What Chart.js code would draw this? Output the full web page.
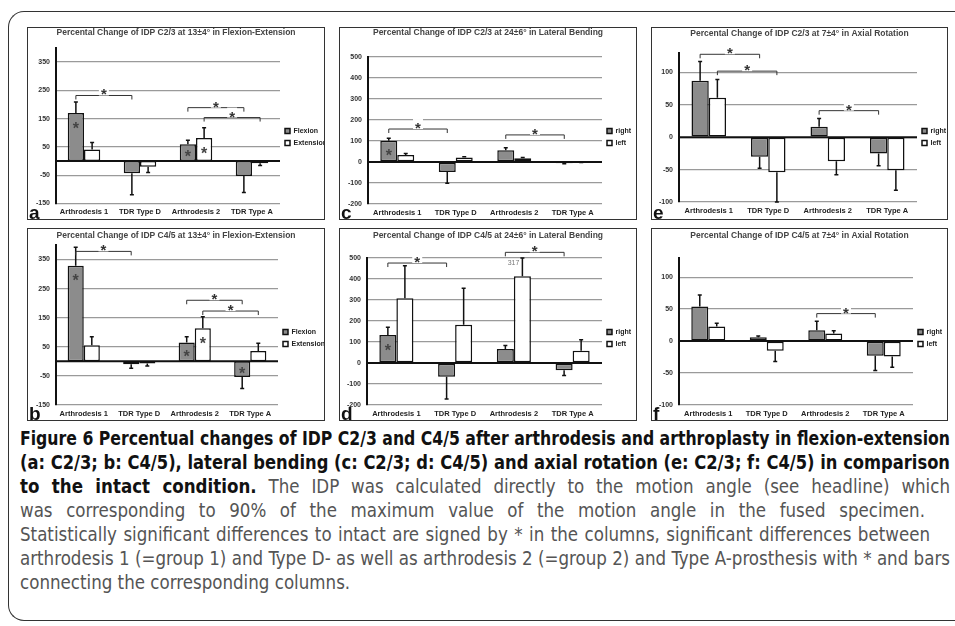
<!DOCTYPE html>
<html>
<head>
<meta charset="utf-8">
<script src="https://cdn.jsdelivr.net/npm/chart.js@4.4.0/dist/chart.umd.min.js"></script>
<style>
html, body { margin: 0; padding: 0; background: #fff; }
body { width: 955px; height: 626px; overflow: hidden; position: relative; font-family: "Liberation Sans", Arial, sans-serif; }
#frame { position: absolute; left: 8px; top: 11px; width: 960px; height: 610px; border: 1.5px solid #333; border-right: none; border-radius: 16px 0 0 16px; box-sizing: border-box; }
.panel { position: absolute; border: 1px solid #333; box-sizing: border-box; background: #fff; }
.panel canvas { position: absolute; left: 0; top: 0; }
.letter { position: absolute; left: 1px; bottom: -3px; font: bold 19px "Liberation Sans", Arial, sans-serif; line-height: 19px; color: #111; }
#caption { position: absolute; left: 20px; top: 427px; width: 930px; font-family: "Liberation Sans Narrow", "DejaVu Sans Condensed", sans-serif; font-size: 17px; line-height: 24px; color: #555; }
.ln { white-space: nowrap; height: 24px; }
.ln span { display: inline-block; transform-origin: 0 50%; }
.ln b { color: #111; }
</style>
</head>
<body>
<div id="frame"></div>
<div id="caption">
  <div class="ln" data-w="930"><span><b>Figure 6 Percentual changes of IDP C2/3 and C4/5 after arthrodesis and arthroplasty in flexion-extension</b></span></div>
  <div class="ln" data-w="930"><span><b>(a: C2/3; b: C4/5), lateral bending (c: C2/3; d: C4/5) and axial rotation (e: C2/3; f: C4/5) in comparison</b></span></div>
  <div class="ln" data-w="930"><span><b>to the intact condition.</b> The IDP was calculated directly to the motion angle (see headline) which</span></div>
  <div class="ln" data-w="905"><span>was corresponding to 90% of the maximum value of the motion angle in the fused specimen.</span></div>
  <div class="ln" data-w="910"><span>Statistically significant differences to intact are signed by * in the columns, significant differences between</span></div>
  <div class="ln" data-w="930" id="refline"><span>arthrodesis 1 (=group 1) and Type D- as well as arthrodesis 2 (=group 2) and Type A-prosthesis with * and bars</span></div>
  <div class="ln" data-w="0"><span>connecting the corresponding columns.</span></div>
</div>
<script>
// categories and series names
const groups = ['Arthrodesis 1', 'TDR Type D', 'Arthrodesis 2', 'TDR Type A'];
const seriesFE = ['Flexion', 'Extension'];
const seriesLR = ['right', 'left'];

// y tick labels
const ticksFE = [-150, -50, 50, 150, 250, 350];
const ticksLB = [-200, -100, 0, 100, 200, 300, 400, 500];
const ticksAR = [-100, -50, 0, 50, 100];

// a: C2/3 flexion-extension (mean, SD)
const aFlexion = [170, -43, 60, -53];
const aFlexionSD = [39, 76, 14, 58];
const aExtension = [41, -20, 82, -8];
const aExtensionSD = [25, 20, 36, 8];

// b: C4/5 flexion-extension
const bFlexion = [329, -10, 65, -54];
const bFlexionSD = [63, 14, 20, 39];
const bExtension = [55, -7, 114, 36];
const bExtensionSD = [30, 9, 39, 26];

// c: C2/3 lateral bending
const cRight = [101, -48, 56, -6];
const cRightSD = [12, 53, 12, 2];
const cLeft = [33, 22, 18, -1];
const cLeftSD = [7, 3, 3, 1];

// d: C4/5 lateral bending
const dRight = [133, -65, 67, -34];
const dRightSD = [37, 106, 16, 26];
const dLeft = [308, 182, 413, 58];
const dLeftSD = [155, 174, 317, 53];

// e: C2/3 axial rotation
const eRight = [87, -30, 16, -25];
const eRightSD = [30, 18, 13, 19];
const eLeft = [61, -54, -37, -51];
const eLeftSD = [28, 46, 21, 31];

// f: C4/5 axial rotation
const fRight = [54, 6, 17, -23];
const fRightSD = [18, 2, 14, 23];
const fLeft = [23, -15, 12, -24];
const fLeftSD = [5, 17, 4, 17];

// significance brackets: [series, from group, to group, level]
const aBrackets = [[0, 0, 1, 232], [0, 2, 3, 189], [1, 2, 3, 154]];
const bBrackets = [[0, 0, 1, 378], [0, 2, 3, 210], [1, 2, 3, 173]];
const cBrackets = [[0, 0, 1, 157], [0, 2, 3, 129]];
const dBrackets = [[0, 0, 1, 476], [0, 2, 3, 527]];
const eBrackets = [[0, 0, 1, 128], [1, 0, 1, 102], [0, 2, 3, 41]];
const fBrackets = [[0, 2, 3, 43]];

// significant vs intact: [series, group]
const aStars = [[0, 0], [0, 2], [1, 2]];
const bStars = [[0, 0], [0, 2], [1, 2], [0, 3]];
const cStars = [[0, 0]];
const dStars = [[0, 0]];
const eStars = [];
const fStars = [];

const FONT = '"Liberation Sans", Arial, sans-serif';

const panels = [
    {id: 'a', title: 'Percental Change of IDP C2/3 at 13±4° in Flexion-Extension', names: seriesFE,
     values: [aFlexion, aExtension], sd: [aFlexionSD, aExtensionSD], min: -150, max: 400, ticks: ticksFE,
     brackets: aBrackets, stars: aStars, x: 27, y: 27, w: 298, h: 193, area: {l: 28, t: 20, r: 252, b: 175.5}, tt: 0},
    {id: 'c', title: 'Percental Change of IDP C2/3 at 24±6° in Lateral Bending', names: seriesLR,
     values: [cRight, cLeft], sd: [cRightSD, cLeftSD], min: -200, max: 500, ticks: ticksLB,
     brackets: cBrackets, stars: cStars, x: 339, y: 27, w: 298, h: 193, area: {l: 28, t: 29, r: 262, b: 176}, tt: 0},
    {id: 'e', title: 'Percental Change of IDP C2/3 at 7±4° in Axial Rotation', names: seriesLR,
     values: [eRight, eLeft], sd: [eRightSD, eLeftSD], min: -100, max: 130, ticks: ticksAR,
     brackets: eBrackets, stars: eStars, x: 651, y: 27, w: 297, h: 193, area: {l: 27, t: 25, r: 265, b: 174}, tt: 1},
    {id: 'b', title: 'Percental Change of IDP C4/5 at 13±4° in Flexion-Extension', names: seriesFE,
     values: [bFlexion, bExtension], sd: [bFlexionSD, bExtensionSD], min: -150, max: 400, ticks: ticksFE,
     brackets: bBrackets, stars: bStars, x: 27, y: 228, w: 298, h: 193, area: {l: 28, t: 16, r: 250, b: 176}, tt: 2},
    {id: 'd', title: 'Percental Change of IDP C4/5 at 24±6° in Lateral Bending', names: seriesLR,
     values: [dRight, dLeft], sd: [dRightSD, dLeftSD], min: -200, max: 500, ticks: ticksLB,
     brackets: dBrackets, stars: dStars, x: 339, y: 228, w: 298, h: 193, area: {l: 27, t: 29, r: 262, b: 176}, tt: 2},
    {id: 'f', title: 'Percental Change of IDP C4/5 at 7±4° in Axial Rotation', names: seriesLR,
     values: [fRight, fLeft], sd: [fRightSD, fLeftSD], min: -100, max: 130, ticks: ticksAR,
     brackets: fBrackets, stars: fStars, x: 651, y: 228, w: 297, h: 193, area: {l: 27, t: 29, r: 261, b: 176}, tt: 2}
];

function drawStar(ctx, x, cy, size, color, clear) {
    if (clear) {
        ctx.fillStyle = '#fff';
        ctx.fillRect(x - 5, cy - 5, 10, 10);
    }
    ctx.fillStyle = color;
    ctx.font = `bold ${size}px ${FONT}`;
    ctx.textAlign = 'center';
    ctx.textBaseline = 'alphabetic';
    ctx.fillText('*', x, cy + size * 0.6);
}

function decorFor(p) {
    return {
        id: 'decor' + p.id,
        afterDatasetsDraw(chart) {
            const {ctx, chartArea: ca} = chart;
            const y = chart.scales.y;
            const y0 = y.getPixelForValue(0);
            ctx.save();
            // zero line
            ctx.strokeStyle = '#111';
            ctx.lineWidth = 2;
            ctx.beginPath();
            ctx.moveTo(ca.left, y0);
            ctx.lineTo(ca.right, y0);
            ctx.stroke();

            // error bars (SD)
            chart.data.datasets.forEach((ds, i) => {
                chart.getDatasetMeta(i).data.forEach((bar, j) => {
                    const v = ds.data[j];
                    const sd = ds.sd[j];
                    const end = v >= 0 ? v + sd : v - sd;
                    let ye = y.getPixelForValue(end);
                    const cut = ye < ca.top;
                    ye = Math.max(ca.top, Math.min(ca.bottom, ye));
                    ctx.strokeStyle = '#111';
                    ctx.lineWidth = 1.5;
                    ctx.beginPath();
                    ctx.moveTo(bar.x, bar.y);
                    ctx.lineTo(bar.x, ye);
                    ctx.moveTo(bar.x - 2, ye);
                    ctx.lineTo(bar.x + 2, ye);
                    ctx.stroke();
                    if (cut) {
                        ctx.fillStyle = '#777';
                        ctx.font = `7px ${FONT}`;
                        ctx.textAlign = 'right';
                        ctx.textBaseline = 'middle';
                        ctx.fillText(String(sd), bar.x - 3, ca.top + 5);
                    }
                });
            });

            // stars inside the columns
            p.stars.forEach(([i, j]) => {
                const bar = chart.getDatasetMeta(i).data[j];
                const top = Math.min(bar.y, bar.base);
                const h = Math.abs(bar.base - bar.y);
                drawStar(ctx, bar.x, top + Math.min(h / 2, 11), 16, '#444', false);
            });

            // brackets between groups
            p.brackets.forEach(([i, g1, g2, level]) => {
                const meta = chart.getDatasetMeta(i);
                const x1 = meta.data[g1].x;
                const x2 = meta.data[g2].x;
                const yl = y.getPixelForValue(level);
                ctx.strokeStyle = '#333';
                ctx.lineWidth = 1;
                ctx.beginPath();
                ctx.moveTo(x1, yl + 4);
                ctx.lineTo(x1, yl);
                ctx.lineTo(x2, yl);
                ctx.lineTo(x2, yl + 4);
                ctx.stroke();
                drawStar(ctx, (x1 + x2) / 2, yl - 5, 15, '#333', true);
            });
            ctx.restore();
        }
    };
}

function makePanel(p) {
    const div = document.createElement('div');
    div.className = 'panel';
    div.style.left = p.x + 'px';
    div.style.top = p.y + 'px';
    div.style.width = p.w + 'px';
    div.style.height = p.h + 'px';
    const cw = p.w - 2, ch = p.h - 2;
    const canvas = document.createElement('canvas');
    canvas.width = cw;
    canvas.height = ch;
    canvas.style.width = cw + 'px';
    canvas.style.height = ch + 'px';
    div.appendChild(canvas);
    const letter = document.createElement('div');
    letter.className = 'letter';
    letter.textContent = p.id;
    div.appendChild(letter);
    document.body.appendChild(div);

    const A = p.area;
    const legendPad = 5;
    new Chart(canvas, {
        type: 'bar',
        data: {
            labels: groups,
            datasets: p.names.map((n, i) => ({
                label: n,
                data: p.values[i],
                sd: p.sd[i],
                backgroundColor: i === 0 ? '#8c8c8c' : '#ffffff',
                borderColor: '#111',
                borderWidth: 1.5,
                borderSkipped: false,
                categoryPercentage: 0.58,
                barPercentage: 1
            }))
        },
        options: {
            responsive: false,
            animation: false,
            layout: {padding: 0},
            plugins: {
                title: {
                    display: true, text: p.title, color: '#444',
                    font: {family: FONT, size: 8.5, weight: 'bold'},
                    padding: {top: p.tt, bottom: A.t - p.tt - 10.2}
                },
                legend: {
                    position: 'right', align: 'start', fullSize: false, maxWidth: cw - A.r,
                    labels: {boxWidth: 5, boxHeight: 5, padding: legendPad, color: '#222',
                             font: {family: FONT, size: 7, weight: 'bold'}},
                    title: {display: true, text: '', font: {size: 1},
                            padding: {top: 103 - 3.5 - 1.2 - legendPad - A.t, bottom: 0}}
                },
                tooltip: {enabled: false}
            },
            scales: {
                x: {
                    grid: {display: false, drawTicks: false},
                    border: {display: false},
                    ticks: {padding: 4, color: '#222', autoSkip: false, maxRotation: 0,
                            font: {family: FONT, size: 7.5, weight: 'bold'}},
                    afterFit: s => { s.height = ch - A.b; }
                },
                y: {
                    min: p.min, max: p.max,
                    afterBuildTicks: s => { s.ticks = p.ticks.map(v => ({value: v})); },
                    grid: {color: '#9a9a9a', lineWidth: 1.3, drawTicks: false},
                    border: {display: true, color: '#111', width: 2},
                    ticks: {padding: 6, color: '#333', font: {family: FONT, size: 7, weight: 'bold'}},
                    afterFit: s => { s.width = A.l; }
                }
            }
        },
        plugins: [decorFor(p)]
    });
}

panels.forEach(makePanel);

// caption: size the font so the densest line fills its width, then justify the others
const caption = document.getElementById('caption');
const ref = document.querySelector('#refline span');
const fs = 17 * 930 / ref.getBoundingClientRect().width;
caption.style.fontSize = fs + 'px';
document.querySelectorAll('#caption .ln').forEach(ln => {
    const span = ln.querySelector('span');
    const target = Number(ln.dataset.w);
    if (!target) return;
    const w = span.getBoundingClientRect().width;
    const spaces = (span.textContent.match(/ /g) || []).length;
    if (w < target && spaces) {
        span.style.wordSpacing = ((target - w) / spaces) + 'px';
    } else if (w > target) {
        span.style.transform = `scaleX(${target / w})`;
    }
});
</script>
</body>
</html>
